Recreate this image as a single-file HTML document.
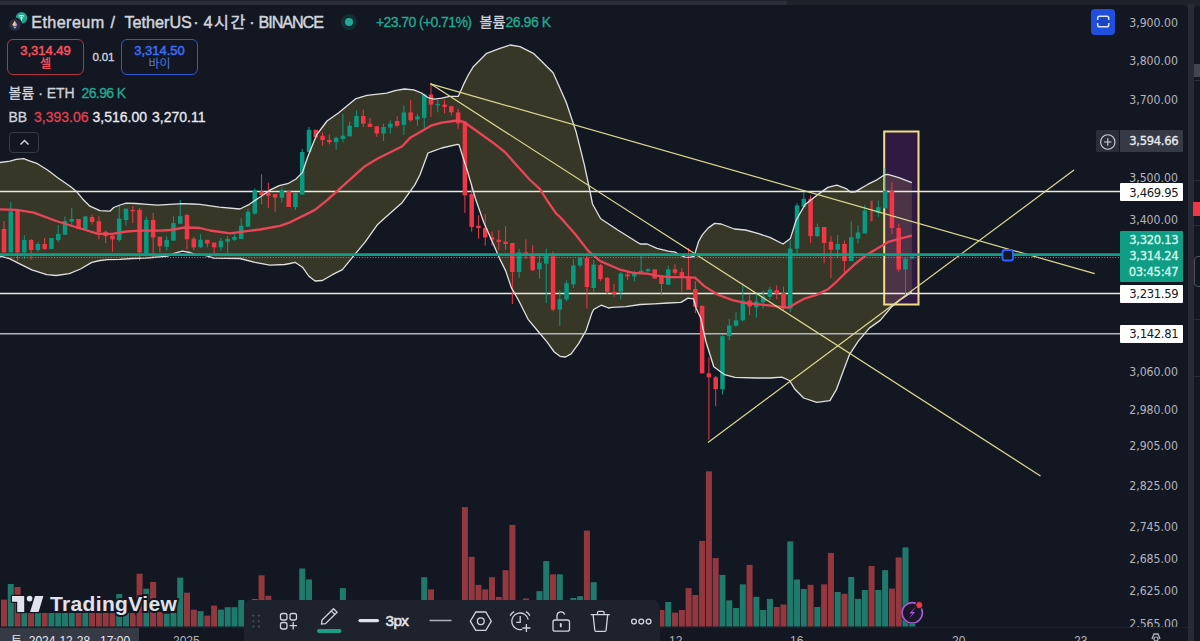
<!DOCTYPE html>
<html><head><meta charset="utf-8">
<style>
*{margin:0;padding:0;box-sizing:border-box}
html,body{width:1200px;height:641px;overflow:hidden;background:#1f212b}
body{position:relative;font-family:"Liberation Sans","Noto Sans CJK KR",sans-serif;color:#d1d4dc}
.abs{position:absolute;white-space:nowrap}
#panel{position:absolute;left:0;top:5px;width:1188px;height:636px;background:#131722;border-top-right-radius:5px;overflow:hidden}
#rpanel{position:absolute;left:1194px;top:6px;width:6px;height:635px;background:#131722;border-top-left-radius:4px}
svg{position:absolute;left:0;top:0}
.ic{position:absolute;overflow:visible}
.pax{position:absolute;left:1110px;width:68px;text-align:right;font-family:"DejaVu Sans Condensed","DejaVu Sans",sans-serif;font-stretch:condensed;font-size:12.2px;line-height:14px;color:#b2b5be}
.pbox{position:absolute;left:1120px;width:63px;text-align:right;padding-right:4.6px;font-family:"DejaVu Sans Condensed","DejaVu Sans",sans-serif;font-stretch:condensed;font-size:12.9px;letter-spacing:-0.3px;border-radius:1px}
.pb{-webkit-text-stroke:0.3px currentColor}
.tax{position:absolute;top:633.5px;font-size:12px;line-height:14px;color:#b2b5be;font-family:"Liberation Sans",sans-serif}
.ttl{position:absolute;top:12px;font-size:16.2px;line-height:20px;color:#d1d4dc;white-space:nowrap;-webkit-text-stroke:0.45px #d1d4dc}
</style></head><body>
<div class="abs" style="left:0;top:1px;width:787px;height:4px;background:#2a2e39"></div>
<div class="abs" style="left:1188px;top:4px;width:6px;height:637px;background:#282b36"></div>
<div id="panel"></div>
<div id="rpanel"></div>
<svg width="1200" height="641" viewBox="0 0 1200 641">
<rect x="1.00" y="599.7" width="6.0" height="26.8" fill="#94383f"/>
<rect x="7.78" y="584.0" width="6.0" height="42.5" fill="#1f7a6c"/>
<rect x="14.56" y="587.0" width="6.0" height="39.5" fill="#94383f"/>
<rect x="21.33" y="613.0" width="6.0" height="13.5" fill="#1f7a6c"/>
<rect x="28.11" y="613.0" width="6.0" height="13.5" fill="#94383f"/>
<rect x="34.89" y="613.0" width="6.0" height="13.5" fill="#1f7a6c"/>
<rect x="41.67" y="613.0" width="6.0" height="13.5" fill="#94383f"/>
<rect x="48.45" y="613.0" width="6.0" height="13.5" fill="#1f7a6c"/>
<rect x="55.22" y="613.0" width="6.0" height="13.5" fill="#1f7a6c"/>
<rect x="62.00" y="613.0" width="6.0" height="13.5" fill="#1f7a6c"/>
<rect x="68.78" y="613.0" width="6.0" height="13.5" fill="#1f7a6c"/>
<rect x="75.56" y="613.0" width="6.0" height="13.5" fill="#94383f"/>
<rect x="82.34" y="613.0" width="6.0" height="13.5" fill="#1f7a6c"/>
<rect x="89.11" y="613.0" width="6.0" height="13.5" fill="#94383f"/>
<rect x="95.89" y="613.0" width="6.0" height="13.5" fill="#94383f"/>
<rect x="102.67" y="613.0" width="6.0" height="13.5" fill="#94383f"/>
<rect x="109.45" y="613.0" width="6.0" height="13.5" fill="#94383f"/>
<rect x="116.23" y="594.0" width="6.0" height="32.5" fill="#1f7a6c"/>
<rect x="123.00" y="613.0" width="6.0" height="13.5" fill="#1f7a6c"/>
<rect x="129.78" y="613.0" width="6.0" height="13.5" fill="#94383f"/>
<rect x="136.56" y="573.7" width="6.0" height="52.8" fill="#94383f"/>
<rect x="143.34" y="588.7" width="6.0" height="37.8" fill="#1f7a6c"/>
<rect x="150.12" y="581.9" width="6.0" height="44.6" fill="#94383f"/>
<rect x="156.89" y="612.0" width="6.0" height="14.5" fill="#94383f"/>
<rect x="163.67" y="613.7" width="6.0" height="12.8" fill="#1f7a6c"/>
<rect x="170.45" y="613.0" width="6.0" height="13.5" fill="#1f7a6c"/>
<rect x="177.23" y="577.7" width="6.0" height="48.8" fill="#1f7a6c"/>
<rect x="184.01" y="592.7" width="6.0" height="33.8" fill="#94383f"/>
<rect x="190.78" y="609.7" width="6.0" height="16.8" fill="#94383f"/>
<rect x="197.56" y="611.2" width="6.0" height="15.3" fill="#1f7a6c"/>
<rect x="204.34" y="615.6" width="6.0" height="10.9" fill="#94383f"/>
<rect x="211.12" y="605.6" width="6.0" height="20.9" fill="#94383f"/>
<rect x="217.90" y="609.7" width="6.0" height="16.8" fill="#1f7a6c"/>
<rect x="224.67" y="607.2" width="6.0" height="19.3" fill="#1f7a6c"/>
<rect x="231.45" y="607.2" width="6.0" height="19.3" fill="#1f7a6c"/>
<rect x="238.23" y="600.0" width="6.0" height="26.5" fill="#1f7a6c"/>
<rect x="245.01" y="613.0" width="6.0" height="13.5" fill="#1f7a6c"/>
<rect x="251.79" y="599.0" width="6.0" height="27.5" fill="#1f7a6c"/>
<rect x="258.56" y="575.3" width="6.0" height="51.2" fill="#94383f"/>
<rect x="265.34" y="595.8" width="6.0" height="30.7" fill="#94383f"/>
<rect x="272.12" y="613.0" width="6.0" height="13.5" fill="#94383f"/>
<rect x="278.90" y="613.0" width="6.0" height="13.5" fill="#1f7a6c"/>
<rect x="285.68" y="613.0" width="6.0" height="13.5" fill="#94383f"/>
<rect x="292.45" y="613.0" width="6.0" height="13.5" fill="#1f7a6c"/>
<rect x="299.23" y="568.5" width="6.0" height="58.0" fill="#1f7a6c"/>
<rect x="306.01" y="579.4" width="6.0" height="47.1" fill="#1f7a6c"/>
<rect x="312.79" y="613.0" width="6.0" height="13.5" fill="#94383f"/>
<rect x="319.57" y="613.0" width="6.0" height="13.5" fill="#94383f"/>
<rect x="326.34" y="613.0" width="6.0" height="13.5" fill="#94383f"/>
<rect x="333.12" y="613.0" width="6.0" height="13.5" fill="#1f7a6c"/>
<rect x="339.90" y="588.1" width="6.0" height="38.4" fill="#1f7a6c"/>
<rect x="346.68" y="613.0" width="6.0" height="13.5" fill="#1f7a6c"/>
<rect x="353.46" y="613.0" width="6.0" height="13.5" fill="#1f7a6c"/>
<rect x="360.23" y="613.0" width="6.0" height="13.5" fill="#94383f"/>
<rect x="367.01" y="613.0" width="6.0" height="13.5" fill="#94383f"/>
<rect x="373.79" y="613.0" width="6.0" height="13.5" fill="#94383f"/>
<rect x="380.57" y="613.0" width="6.0" height="13.5" fill="#1f7a6c"/>
<rect x="387.35" y="613.0" width="6.0" height="13.5" fill="#1f7a6c"/>
<rect x="394.12" y="613.0" width="6.0" height="13.5" fill="#94383f"/>
<rect x="400.90" y="613.0" width="6.0" height="13.5" fill="#1f7a6c"/>
<rect x="407.68" y="613.0" width="6.0" height="13.5" fill="#94383f"/>
<rect x="414.46" y="613.0" width="6.0" height="13.5" fill="#1f7a6c"/>
<rect x="421.24" y="577.2" width="6.0" height="49.3" fill="#1f7a6c"/>
<rect x="428.01" y="589.4" width="6.0" height="37.1" fill="#94383f"/>
<rect x="434.79" y="613.0" width="6.0" height="13.5" fill="#1f7a6c"/>
<rect x="441.57" y="613.0" width="6.0" height="13.5" fill="#94383f"/>
<rect x="448.35" y="613.0" width="6.0" height="13.5" fill="#94383f"/>
<rect x="455.13" y="613.0" width="6.0" height="13.5" fill="#94383f"/>
<rect x="461.90" y="507.1" width="6.0" height="119.4" fill="#94383f"/>
<rect x="468.68" y="556.8" width="6.0" height="69.7" fill="#94383f"/>
<rect x="475.46" y="584.9" width="6.0" height="41.6" fill="#94383f"/>
<rect x="482.24" y="589.4" width="6.0" height="37.1" fill="#94383f"/>
<rect x="489.02" y="577.2" width="6.0" height="49.3" fill="#94383f"/>
<rect x="495.79" y="596.9" width="6.0" height="29.6" fill="#94383f"/>
<rect x="502.57" y="570.2" width="6.0" height="56.3" fill="#94383f"/>
<rect x="509.35" y="524.9" width="6.0" height="101.6" fill="#94383f"/>
<rect x="516.13" y="613.0" width="6.0" height="13.5" fill="#1f7a6c"/>
<rect x="522.91" y="598.5" width="6.0" height="28.0" fill="#94383f"/>
<rect x="529.68" y="613.0" width="6.0" height="13.5" fill="#94383f"/>
<rect x="536.46" y="591.2" width="6.0" height="35.3" fill="#1f7a6c"/>
<rect x="543.24" y="561.1" width="6.0" height="65.4" fill="#1f7a6c"/>
<rect x="550.02" y="574.3" width="6.0" height="52.2" fill="#94383f"/>
<rect x="556.80" y="574.3" width="6.0" height="52.2" fill="#1f7a6c"/>
<rect x="563.57" y="613.0" width="6.0" height="13.5" fill="#1f7a6c"/>
<rect x="570.35" y="598.0" width="6.0" height="28.5" fill="#1f7a6c"/>
<rect x="577.13" y="596.2" width="6.0" height="30.3" fill="#1f7a6c"/>
<rect x="583.91" y="530.6" width="6.0" height="95.9" fill="#94383f"/>
<rect x="590.69" y="582.2" width="6.0" height="44.3" fill="#1f7a6c"/>
<rect x="597.46" y="613.0" width="6.0" height="13.5" fill="#94383f"/>
<rect x="604.24" y="613.0" width="6.0" height="13.5" fill="#94383f"/>
<rect x="611.02" y="613.0" width="6.0" height="13.5" fill="#94383f"/>
<rect x="617.80" y="613.0" width="6.0" height="13.5" fill="#1f7a6c"/>
<rect x="624.58" y="613.0" width="6.0" height="13.5" fill="#94383f"/>
<rect x="631.35" y="613.0" width="6.0" height="13.5" fill="#1f7a6c"/>
<rect x="638.13" y="613.0" width="6.0" height="13.5" fill="#1f7a6c"/>
<rect x="644.91" y="613.0" width="6.0" height="13.5" fill="#1f7a6c"/>
<rect x="651.69" y="613.0" width="6.0" height="13.5" fill="#94383f"/>
<rect x="658.47" y="610.0" width="6.0" height="16.5" fill="#94383f"/>
<rect x="665.24" y="602.0" width="6.0" height="24.5" fill="#1f7a6c"/>
<rect x="672.02" y="612.6" width="6.0" height="13.9" fill="#94383f"/>
<rect x="678.80" y="610.0" width="6.0" height="16.5" fill="#94383f"/>
<rect x="685.58" y="588.1" width="6.0" height="38.4" fill="#94383f"/>
<rect x="692.36" y="595.0" width="6.0" height="31.5" fill="#94383f"/>
<rect x="699.13" y="540.9" width="6.0" height="85.6" fill="#94383f"/>
<rect x="705.91" y="471.3" width="6.0" height="155.2" fill="#94383f"/>
<rect x="712.69" y="558.1" width="6.0" height="68.4" fill="#94383f"/>
<rect x="719.47" y="574.9" width="6.0" height="51.6" fill="#1f7a6c"/>
<rect x="726.25" y="600.3" width="6.0" height="26.2" fill="#1f7a6c"/>
<rect x="733.02" y="608.0" width="6.0" height="18.5" fill="#1f7a6c"/>
<rect x="739.80" y="584.3" width="6.0" height="42.2" fill="#1f7a6c"/>
<rect x="746.58" y="564.9" width="6.0" height="61.6" fill="#94383f"/>
<rect x="753.36" y="596.8" width="6.0" height="29.7" fill="#1f7a6c"/>
<rect x="760.14" y="610.0" width="6.0" height="16.5" fill="#1f7a6c"/>
<rect x="766.91" y="598.9" width="6.0" height="27.6" fill="#1f7a6c"/>
<rect x="773.69" y="607.0" width="6.0" height="19.5" fill="#94383f"/>
<rect x="780.47" y="604.5" width="6.0" height="22.0" fill="#94383f"/>
<rect x="787.25" y="541.4" width="6.0" height="85.1" fill="#1f7a6c"/>
<rect x="794.03" y="579.5" width="6.0" height="47.0" fill="#1f7a6c"/>
<rect x="800.80" y="589.0" width="6.0" height="37.5" fill="#1f7a6c"/>
<rect x="807.58" y="584.8" width="6.0" height="41.7" fill="#94383f"/>
<rect x="814.36" y="607.0" width="6.0" height="19.5" fill="#1f7a6c"/>
<rect x="821.14" y="584.3" width="6.0" height="42.2" fill="#94383f"/>
<rect x="827.92" y="552.9" width="6.0" height="73.6" fill="#94383f"/>
<rect x="834.69" y="592.0" width="6.0" height="34.5" fill="#1f7a6c"/>
<rect x="841.47" y="593.8" width="6.0" height="32.7" fill="#94383f"/>
<rect x="848.25" y="577.0" width="6.0" height="49.5" fill="#1f7a6c"/>
<rect x="855.03" y="598.9" width="6.0" height="27.6" fill="#1f7a6c"/>
<rect x="861.81" y="590.0" width="6.0" height="36.5" fill="#1f7a6c"/>
<rect x="868.58" y="566.0" width="6.0" height="60.5" fill="#94383f"/>
<rect x="875.36" y="590.0" width="6.0" height="36.5" fill="#1f7a6c"/>
<rect x="882.14" y="570.1" width="6.0" height="56.4" fill="#1f7a6c"/>
<rect x="888.92" y="588.6" width="6.0" height="37.9" fill="#94383f"/>
<rect x="895.70" y="557.4" width="6.0" height="69.1" fill="#94383f"/>
<rect x="902.47" y="547.4" width="6.0" height="79.1" fill="#1f7a6c"/>
<rect x="909.25" y="615.0" width="6.0" height="11.5" fill="#1f7a6c"/>
<polygon points="0.0,162.5 10.0,161.2 16.2,159.4 23.7,158.7 28.7,160.6 37.5,163.7 47.5,170.0 57.4,177.5 70.0,186.2 76.2,191.2 82.4,198.7 89.9,206.2 99.9,210.6 109.9,211.2 113.7,207.5 120.0,205.0 126.2,203.1 136.2,203.5 147.5,204.4 157.4,205.2 170.0,204.4 182.4,203.7 192.4,204.0 200.0,204.4 219.3,207.1 240.0,209.0 249.3,204.3 260.5,196.8 269.9,190.2 279.2,185.6 288.6,183.3 296.0,179.0 302.5,172.4 307.5,157.5 316.8,134.6 327.0,121.0 338.7,112.7 356.0,98.6 367.0,95.3 386.7,93.1 395.0,90.6 404.4,89.0 413.7,89.8 421.5,93.0 427.8,97.6 434.0,99.2 441.8,98.1 449.6,96.4 458.2,96.4 463.6,84.4 468.3,75.0 473.3,66.7 486.7,53.3 500.0,48.3 510.0,45.0 520.0,46.7 533.3,53.3 540.0,59.7 553.1,72.8 566.2,102.3 576.1,131.8 584.3,164.6 589.2,187.5 592.5,204.0 600.7,218.7 617.7,230.0 628.9,237.0 640.1,244.0 647.2,244.0 657.0,248.3 668.2,251.1 675.3,252.2 679.5,255.0 685.1,257.2 689.4,257.3 694.0,256.5 698.7,241.2 702.5,234.6 708.1,228.1 714.6,223.4 721.2,224.0 734.3,229.0 745.5,230.0 758.6,233.7 769.9,237.4 783.0,244.0 790.4,238.4 796.2,220.0 805.2,204.4 816.6,195.4 827.9,187.4 836.9,185.2 846.0,188.6 850.5,192.0 855.0,191.9 868.1,184.2 876.9,179.8 884.5,174.8 887.8,174.4 898.8,177.7 911.9,182.7 911.9,292.0 902.0,298.6 891.1,307.3 880.2,320.4 869.3,328.1 858.3,341.2 849.6,354.3 843.0,371.8 836.5,389.3 829.9,400.6 816.8,402.4 803.7,398.0 795.0,389.3 789.5,380.5 781.9,377.2 770.0,378.0 756.2,378.0 735.0,377.3 724.4,374.6 713.8,366.7 705.9,341.5 700.6,317.7 696.3,308.7 693.5,298.8 687.9,298.1 680.9,302.4 668.2,303.0 654.2,303.8 640.1,304.5 626.1,306.6 612.0,307.3 608.6,308.0 601.1,305.2 593.6,309.5 591.7,313.6 586.1,330.5 578.6,343.6 571.1,353.9 565.5,357.0 560.0,356.3 554.3,352.0 546.8,341.7 537.4,330.5 528.1,319.3 518.7,300.5 511.2,287.4 505.6,270.6 500.0,259.4 493.0,243.2 483.7,222.2 475.5,198.8 467.4,171.0 463.6,159.2 459.0,144.6 457.4,144.4 441.8,148.0 432.4,151.4 428.0,153.0 420.0,174.8 414.8,184.9 402.3,202.4 389.8,213.6 377.3,224.8 364.9,242.3 352.4,257.3 342.4,269.7 332.4,274.7 322.4,280.5 315.0,281.0 308.7,276.0 302.5,267.2 295.0,262.3 290.0,263.5 284.8,264.5 269.9,265.1 254.9,262.3 240.0,258.5 213.7,258.2 206.0,255.7 195.0,254.4 190.0,252.5 182.5,251.2 175.0,253.1 167.5,256.2 160.0,256.9 152.5,257.5 145.0,258.1 132.5,258.5 120.0,259.4 107.5,259.7 100.0,260.5 91.8,262.4 80.5,269.0 69.3,273.6 56.2,275.5 46.8,274.6 31.8,269.9 18.7,263.3 9.4,258.7 0.0,256.0" fill="rgba(240,220,70,0.165)"/>
<rect x="884.2" y="131.5" width="34.3" height="173" fill="rgba(156,39,176,0.22)" stroke="#eedf88" stroke-width="2"/>
<line x1="0" y1="333.8" x2="1120" y2="333.8" stroke="#b4b6bc" stroke-width="1.5"/>
<line x1="0" y1="191.5" x2="1120" y2="191.5" stroke="#ebeadc" stroke-width="1.5"/>
<line x1="0" y1="293.5" x2="1120" y2="293.5" stroke="#ebeadc" stroke-width="1.5"/>
<line x1="4.00" y1="221.0" x2="4.00" y2="252.4" stroke="#f23645" stroke-width="1"/>
<rect x="1.75" y="229.0" width="4.5" height="23.4" fill="#f23645"/>
<line x1="10.78" y1="202.0" x2="10.78" y2="252.4" stroke="#089981" stroke-width="1"/>
<rect x="8.53" y="211.4" width="4.5" height="41.0" fill="#089981"/>
<line x1="17.56" y1="211.0" x2="17.56" y2="260.6" stroke="#f23645" stroke-width="1"/>
<rect x="15.31" y="211.0" width="4.5" height="41.4" fill="#f23645"/>
<line x1="24.33" y1="235.0" x2="24.33" y2="259.0" stroke="#089981" stroke-width="1"/>
<rect x="22.08" y="240.0" width="4.5" height="12.4" fill="#089981"/>
<line x1="31.11" y1="239.0" x2="31.11" y2="259.5" stroke="#f23645" stroke-width="1"/>
<rect x="28.86" y="240.0" width="4.5" height="10.0" fill="#f23645"/>
<line x1="37.89" y1="241.8" x2="37.89" y2="252.0" stroke="#089981" stroke-width="1"/>
<rect x="35.64" y="244.0" width="4.5" height="6.0" fill="#089981"/>
<line x1="44.67" y1="238.0" x2="44.67" y2="250.0" stroke="#f23645" stroke-width="1"/>
<rect x="42.42" y="244.0" width="4.5" height="5.0" fill="#f23645"/>
<line x1="51.45" y1="238.0" x2="51.45" y2="249.0" stroke="#089981" stroke-width="1"/>
<rect x="49.20" y="238.0" width="4.5" height="11.0" fill="#089981"/>
<line x1="58.22" y1="225.0" x2="58.22" y2="242.0" stroke="#089981" stroke-width="1"/>
<rect x="55.97" y="234.0" width="4.5" height="6.0" fill="#089981"/>
<line x1="65.00" y1="216.5" x2="65.00" y2="235.0" stroke="#089981" stroke-width="1"/>
<rect x="62.75" y="221.0" width="4.5" height="13.7" fill="#089981"/>
<line x1="71.78" y1="208.0" x2="71.78" y2="225.0" stroke="#089981" stroke-width="1"/>
<rect x="69.53" y="219.0" width="4.5" height="2.6" fill="#089981"/>
<line x1="78.56" y1="219.0" x2="78.56" y2="229.0" stroke="#f23645" stroke-width="1"/>
<rect x="76.31" y="219.0" width="4.5" height="10.0" fill="#f23645"/>
<line x1="85.34" y1="216.0" x2="85.34" y2="229.0" stroke="#089981" stroke-width="1"/>
<rect x="83.09" y="216.5" width="4.5" height="12.5" fill="#089981"/>
<line x1="92.11" y1="214.6" x2="92.11" y2="224.6" stroke="#f23645" stroke-width="1"/>
<rect x="89.86" y="217.0" width="4.5" height="5.0" fill="#f23645"/>
<line x1="98.89" y1="216.2" x2="98.89" y2="239.3" stroke="#f23645" stroke-width="1"/>
<rect x="96.64" y="221.2" width="4.5" height="11.2" fill="#f23645"/>
<line x1="105.67" y1="230.6" x2="105.67" y2="243.0" stroke="#f23645" stroke-width="1"/>
<rect x="103.42" y="231.8" width="4.5" height="4.4" fill="#f23645"/>
<line x1="112.45" y1="235.6" x2="112.45" y2="251.8" stroke="#f23645" stroke-width="1"/>
<rect x="110.20" y="235.6" width="4.5" height="3.7" fill="#f23645"/>
<line x1="119.23" y1="205.0" x2="119.23" y2="241.8" stroke="#089981" stroke-width="1"/>
<rect x="116.98" y="218.7" width="4.5" height="21.3" fill="#089981"/>
<line x1="126.00" y1="208.7" x2="126.00" y2="225.6" stroke="#089981" stroke-width="1"/>
<rect x="123.75" y="208.7" width="4.5" height="11.3" fill="#089981"/>
<line x1="132.78" y1="206.2" x2="132.78" y2="223.0" stroke="#f23645" stroke-width="1"/>
<rect x="130.53" y="210.0" width="4.5" height="1.2" fill="#f23645"/>
<line x1="139.56" y1="208.0" x2="139.56" y2="260.5" stroke="#f23645" stroke-width="1"/>
<rect x="137.31" y="210.0" width="4.5" height="42.4" fill="#f23645"/>
<line x1="146.34" y1="216.8" x2="146.34" y2="253.7" stroke="#089981" stroke-width="1"/>
<rect x="144.09" y="220.0" width="4.5" height="33.7" fill="#089981"/>
<line x1="153.12" y1="213.0" x2="153.12" y2="257.4" stroke="#f23645" stroke-width="1"/>
<rect x="150.87" y="220.0" width="4.5" height="17.4" fill="#f23645"/>
<line x1="159.89" y1="236.8" x2="159.89" y2="252.4" stroke="#f23645" stroke-width="1"/>
<rect x="157.64" y="236.8" width="4.5" height="9.4" fill="#f23645"/>
<line x1="166.67" y1="236.2" x2="166.67" y2="250.5" stroke="#089981" stroke-width="1"/>
<rect x="164.42" y="240.0" width="4.5" height="6.8" fill="#089981"/>
<line x1="173.45" y1="216.2" x2="173.45" y2="240.6" stroke="#089981" stroke-width="1"/>
<rect x="171.20" y="223.0" width="4.5" height="17.6" fill="#089981"/>
<line x1="180.23" y1="200.0" x2="180.23" y2="223.7" stroke="#089981" stroke-width="1"/>
<rect x="177.98" y="216.2" width="4.5" height="7.5" fill="#089981"/>
<line x1="187.01" y1="213.7" x2="187.01" y2="249.3" stroke="#f23645" stroke-width="1"/>
<rect x="184.76" y="215.0" width="4.5" height="24.3" fill="#f23645"/>
<line x1="193.78" y1="236.8" x2="193.78" y2="250.0" stroke="#f23645" stroke-width="1"/>
<rect x="191.53" y="238.7" width="4.5" height="8.7" fill="#f23645"/>
<line x1="200.56" y1="234.2" x2="200.56" y2="248.0" stroke="#089981" stroke-width="1"/>
<rect x="198.31" y="239.8" width="4.5" height="7.5" fill="#089981"/>
<line x1="207.34" y1="239.8" x2="207.34" y2="247.3" stroke="#f23645" stroke-width="1"/>
<rect x="205.09" y="239.8" width="4.5" height="3.8" fill="#f23645"/>
<line x1="214.12" y1="242.6" x2="214.12" y2="253.0" stroke="#f23645" stroke-width="1"/>
<rect x="211.87" y="242.6" width="4.5" height="4.7" fill="#f23645"/>
<line x1="220.90" y1="238.0" x2="220.90" y2="251.0" stroke="#089981" stroke-width="1"/>
<rect x="218.65" y="240.8" width="4.5" height="6.5" fill="#089981"/>
<line x1="227.67" y1="236.0" x2="227.67" y2="253.0" stroke="#089981" stroke-width="1"/>
<rect x="225.42" y="238.9" width="4.5" height="2.8" fill="#089981"/>
<line x1="234.45" y1="233.3" x2="234.45" y2="240.8" stroke="#089981" stroke-width="1"/>
<rect x="232.20" y="237.0" width="4.5" height="2.8" fill="#089981"/>
<line x1="241.23" y1="218.3" x2="241.23" y2="238.9" stroke="#089981" stroke-width="1"/>
<rect x="238.98" y="225.8" width="4.5" height="13.1" fill="#089981"/>
<line x1="248.01" y1="209.0" x2="248.01" y2="226.7" stroke="#089981" stroke-width="1"/>
<rect x="245.76" y="211.8" width="4.5" height="14.9" fill="#089981"/>
<line x1="254.79" y1="188.4" x2="254.79" y2="214.6" stroke="#089981" stroke-width="1"/>
<rect x="252.54" y="190.2" width="4.5" height="23.4" fill="#089981"/>
<line x1="261.56" y1="174.3" x2="261.56" y2="204.3" stroke="#f23645" stroke-width="1"/>
<rect x="259.31" y="191.5" width="4.5" height="3.5" fill="#f23645"/>
<line x1="268.34" y1="182.8" x2="268.34" y2="208.0" stroke="#f23645" stroke-width="1"/>
<rect x="266.09" y="193.0" width="4.5" height="2.9" fill="#f23645"/>
<line x1="275.12" y1="194.0" x2="275.12" y2="211.8" stroke="#f23645" stroke-width="1"/>
<rect x="272.87" y="194.0" width="4.5" height="3.7" fill="#f23645"/>
<line x1="281.90" y1="187.4" x2="281.90" y2="202.4" stroke="#089981" stroke-width="1"/>
<rect x="279.65" y="190.2" width="4.5" height="7.5" fill="#089981"/>
<line x1="288.68" y1="191.2" x2="288.68" y2="207.0" stroke="#f23645" stroke-width="1"/>
<rect x="286.43" y="191.2" width="4.5" height="15.8" fill="#f23645"/>
<line x1="295.45" y1="192.0" x2="295.45" y2="210.0" stroke="#089981" stroke-width="1"/>
<rect x="293.20" y="193.0" width="4.5" height="14.0" fill="#089981"/>
<line x1="302.23" y1="148.8" x2="302.23" y2="194.6" stroke="#089981" stroke-width="1"/>
<rect x="299.98" y="152.0" width="4.5" height="42.6" fill="#089981"/>
<line x1="309.01" y1="127.0" x2="309.01" y2="152.0" stroke="#089981" stroke-width="1"/>
<rect x="306.76" y="129.8" width="4.5" height="22.2" fill="#089981"/>
<line x1="315.79" y1="129.8" x2="315.79" y2="139.0" stroke="#f23645" stroke-width="1"/>
<rect x="313.54" y="129.8" width="4.5" height="7.4" fill="#f23645"/>
<line x1="322.57" y1="132.4" x2="322.57" y2="145.5" stroke="#f23645" stroke-width="1"/>
<rect x="320.32" y="135.7" width="4.5" height="4.3" fill="#f23645"/>
<line x1="329.34" y1="134.6" x2="329.34" y2="144.4" stroke="#f23645" stroke-width="1"/>
<rect x="327.09" y="140.0" width="4.5" height="2.2" fill="#f23645"/>
<line x1="336.12" y1="136.8" x2="336.12" y2="149.9" stroke="#089981" stroke-width="1"/>
<rect x="333.87" y="137.8" width="4.5" height="4.4" fill="#089981"/>
<line x1="342.90" y1="113.8" x2="342.90" y2="142.2" stroke="#089981" stroke-width="1"/>
<rect x="340.65" y="135.7" width="4.5" height="3.3" fill="#089981"/>
<line x1="349.68" y1="121.5" x2="349.68" y2="136.3" stroke="#089981" stroke-width="1"/>
<rect x="347.43" y="125.8" width="4.5" height="10.5" fill="#089981"/>
<line x1="356.46" y1="110.6" x2="356.46" y2="127.0" stroke="#089981" stroke-width="1"/>
<rect x="354.21" y="116.0" width="4.5" height="11.0" fill="#089981"/>
<line x1="363.23" y1="109.5" x2="363.23" y2="127.0" stroke="#f23645" stroke-width="1"/>
<rect x="360.98" y="116.0" width="4.5" height="7.7" fill="#f23645"/>
<line x1="370.01" y1="118.2" x2="370.01" y2="127.0" stroke="#f23645" stroke-width="1"/>
<rect x="367.76" y="123.7" width="4.5" height="3.3" fill="#f23645"/>
<line x1="376.79" y1="126.3" x2="376.79" y2="136.8" stroke="#f23645" stroke-width="1"/>
<rect x="374.54" y="126.3" width="4.5" height="7.2" fill="#f23645"/>
<line x1="383.57" y1="123.7" x2="383.57" y2="141.1" stroke="#089981" stroke-width="1"/>
<rect x="381.32" y="127.0" width="4.5" height="6.5" fill="#089981"/>
<line x1="390.35" y1="120.4" x2="390.35" y2="133.5" stroke="#089981" stroke-width="1"/>
<rect x="388.10" y="123.7" width="4.5" height="3.9" fill="#089981"/>
<line x1="397.12" y1="116.3" x2="397.12" y2="127.2" stroke="#f23645" stroke-width="1"/>
<rect x="394.87" y="121.0" width="4.5" height="4.7" fill="#f23645"/>
<line x1="403.90" y1="105.4" x2="403.90" y2="135.0" stroke="#089981" stroke-width="1"/>
<rect x="401.65" y="112.4" width="4.5" height="12.5" fill="#089981"/>
<line x1="410.68" y1="100.0" x2="410.68" y2="121.8" stroke="#f23645" stroke-width="1"/>
<rect x="408.43" y="112.4" width="4.5" height="7.8" fill="#f23645"/>
<line x1="417.46" y1="114.0" x2="417.46" y2="125.7" stroke="#089981" stroke-width="1"/>
<rect x="415.21" y="116.3" width="4.5" height="3.2" fill="#089981"/>
<line x1="424.24" y1="93.7" x2="424.24" y2="128.0" stroke="#089981" stroke-width="1"/>
<rect x="421.99" y="94.5" width="4.5" height="23.4" fill="#089981"/>
<line x1="431.01" y1="82.8" x2="431.01" y2="117.1" stroke="#f23645" stroke-width="1"/>
<rect x="428.76" y="94.5" width="4.5" height="10.1" fill="#f23645"/>
<line x1="437.79" y1="100.0" x2="437.79" y2="112.4" stroke="#089981" stroke-width="1"/>
<rect x="435.54" y="103.9" width="4.5" height="1.5" fill="#089981"/>
<line x1="444.57" y1="100.0" x2="444.57" y2="113.2" stroke="#f23645" stroke-width="1"/>
<rect x="442.32" y="104.6" width="4.5" height="2.4" fill="#f23645"/>
<line x1="451.35" y1="106.2" x2="451.35" y2="115.5" stroke="#f23645" stroke-width="1"/>
<rect x="449.10" y="106.2" width="4.5" height="6.2" fill="#f23645"/>
<line x1="458.13" y1="108.5" x2="458.13" y2="128.8" stroke="#f23645" stroke-width="1"/>
<rect x="455.88" y="112.4" width="4.5" height="11.0" fill="#f23645"/>
<line x1="464.90" y1="121.7" x2="464.90" y2="212.9" stroke="#f23645" stroke-width="1"/>
<rect x="462.65" y="121.7" width="4.5" height="73.6" fill="#f23645"/>
<line x1="471.68" y1="183.6" x2="471.68" y2="231.6" stroke="#f23645" stroke-width="1"/>
<rect x="469.43" y="194.2" width="4.5" height="32.7" fill="#f23645"/>
<line x1="478.46" y1="215.2" x2="478.46" y2="238.6" stroke="#f23645" stroke-width="1"/>
<rect x="476.21" y="225.7" width="4.5" height="2.3" fill="#f23645"/>
<line x1="485.24" y1="214.0" x2="485.24" y2="245.6" stroke="#f23645" stroke-width="1"/>
<rect x="482.99" y="228.0" width="4.5" height="9.4" fill="#f23645"/>
<line x1="492.02" y1="231.6" x2="492.02" y2="245.6" stroke="#f23645" stroke-width="1"/>
<rect x="489.77" y="237.4" width="4.5" height="2.3" fill="#f23645"/>
<line x1="498.79" y1="230.4" x2="498.79" y2="250.2" stroke="#f23645" stroke-width="1"/>
<rect x="496.54" y="239.7" width="4.5" height="2.3" fill="#f23645"/>
<line x1="505.57" y1="226.2" x2="505.57" y2="249.6" stroke="#f23645" stroke-width="1"/>
<rect x="503.32" y="241.6" width="4.5" height="2.4" fill="#f23645"/>
<line x1="512.35" y1="243.0" x2="512.35" y2="304.0" stroke="#f23645" stroke-width="1"/>
<rect x="510.10" y="243.0" width="4.5" height="29.0" fill="#f23645"/>
<line x1="519.13" y1="248.7" x2="519.13" y2="277.7" stroke="#089981" stroke-width="1"/>
<rect x="516.88" y="252.4" width="4.5" height="19.6" fill="#089981"/>
<line x1="525.91" y1="239.3" x2="525.91" y2="259.0" stroke="#f23645" stroke-width="1"/>
<rect x="523.66" y="252.4" width="4.5" height="1.9" fill="#f23645"/>
<line x1="532.68" y1="245.0" x2="532.68" y2="271.0" stroke="#f23645" stroke-width="1"/>
<rect x="530.43" y="255.2" width="4.5" height="15.0" fill="#f23645"/>
<line x1="539.46" y1="253.4" x2="539.46" y2="278.7" stroke="#089981" stroke-width="1"/>
<rect x="537.21" y="262.7" width="4.5" height="6.6" fill="#089981"/>
<line x1="546.24" y1="248.7" x2="546.24" y2="303.0" stroke="#089981" stroke-width="1"/>
<rect x="543.99" y="254.3" width="4.5" height="9.4" fill="#089981"/>
<line x1="553.02" y1="251.5" x2="553.02" y2="311.4" stroke="#f23645" stroke-width="1"/>
<rect x="550.77" y="256.2" width="4.5" height="53.4" fill="#f23645"/>
<line x1="559.80" y1="289.9" x2="559.80" y2="326.0" stroke="#089981" stroke-width="1"/>
<rect x="557.55" y="299.3" width="4.5" height="10.3" fill="#089981"/>
<line x1="566.57" y1="280.5" x2="566.57" y2="301.0" stroke="#089981" stroke-width="1"/>
<rect x="564.32" y="283.3" width="4.5" height="16.0" fill="#089981"/>
<line x1="573.35" y1="259.0" x2="573.35" y2="288.0" stroke="#089981" stroke-width="1"/>
<rect x="571.10" y="265.5" width="4.5" height="18.8" fill="#089981"/>
<line x1="580.13" y1="257.0" x2="580.13" y2="267.4" stroke="#089981" stroke-width="1"/>
<rect x="577.88" y="258.0" width="4.5" height="7.5" fill="#089981"/>
<line x1="586.91" y1="256.0" x2="586.91" y2="308.6" stroke="#f23645" stroke-width="1"/>
<rect x="584.66" y="258.0" width="4.5" height="29.0" fill="#f23645"/>
<line x1="593.69" y1="260.0" x2="593.69" y2="291.8" stroke="#089981" stroke-width="1"/>
<rect x="591.44" y="264.6" width="4.5" height="23.4" fill="#089981"/>
<line x1="600.46" y1="264.0" x2="600.46" y2="280.9" stroke="#f23645" stroke-width="1"/>
<rect x="598.21" y="265.1" width="4.5" height="14.1" fill="#f23645"/>
<line x1="607.24" y1="277.0" x2="607.24" y2="294.0" stroke="#f23645" stroke-width="1"/>
<rect x="604.99" y="277.8" width="4.5" height="14.0" fill="#f23645"/>
<line x1="614.02" y1="284.0" x2="614.02" y2="296.7" stroke="#f23645" stroke-width="1"/>
<rect x="611.77" y="291.8" width="4.5" height="2.1" fill="#f23645"/>
<line x1="620.80" y1="272.1" x2="620.80" y2="299.5" stroke="#089981" stroke-width="1"/>
<rect x="618.55" y="273.6" width="4.5" height="18.2" fill="#089981"/>
<line x1="627.58" y1="272.1" x2="627.58" y2="279.9" stroke="#f23645" stroke-width="1"/>
<rect x="625.33" y="274.3" width="4.5" height="2.1" fill="#f23645"/>
<line x1="634.35" y1="270.7" x2="634.35" y2="281.3" stroke="#089981" stroke-width="1"/>
<rect x="632.10" y="272.1" width="4.5" height="4.3" fill="#089981"/>
<line x1="641.13" y1="256.0" x2="641.13" y2="272.1" stroke="#089981" stroke-width="1"/>
<rect x="638.88" y="270.7" width="4.5" height="1.4" fill="#089981"/>
<line x1="647.91" y1="268.0" x2="647.91" y2="271.4" stroke="#089981" stroke-width="1"/>
<rect x="645.66" y="269.3" width="4.5" height="2.1" fill="#089981"/>
<line x1="654.69" y1="269.3" x2="654.69" y2="278.5" stroke="#f23645" stroke-width="1"/>
<rect x="652.44" y="269.3" width="4.5" height="9.2" fill="#f23645"/>
<line x1="661.47" y1="275.7" x2="661.47" y2="295.3" stroke="#f23645" stroke-width="1"/>
<rect x="659.22" y="277.0" width="4.5" height="7.0" fill="#f23645"/>
<line x1="668.24" y1="265.8" x2="668.24" y2="284.8" stroke="#089981" stroke-width="1"/>
<rect x="665.99" y="269.3" width="4.5" height="15.5" fill="#089981"/>
<line x1="675.02" y1="264.4" x2="675.02" y2="275.0" stroke="#f23645" stroke-width="1"/>
<rect x="672.77" y="269.3" width="4.5" height="3.5" fill="#f23645"/>
<line x1="681.80" y1="268.0" x2="681.80" y2="291.8" stroke="#f23645" stroke-width="1"/>
<rect x="679.55" y="272.1" width="4.5" height="4.9" fill="#f23645"/>
<line x1="688.58" y1="248.0" x2="688.58" y2="289.8" stroke="#f23645" stroke-width="1"/>
<rect x="686.33" y="276.5" width="4.5" height="13.3" fill="#f23645"/>
<line x1="695.36" y1="281.0" x2="695.36" y2="313.0" stroke="#f23645" stroke-width="1"/>
<rect x="693.11" y="289.0" width="4.5" height="17.8" fill="#f23645"/>
<line x1="702.13" y1="305.8" x2="702.13" y2="373.3" stroke="#f23645" stroke-width="1"/>
<rect x="699.88" y="305.8" width="4.5" height="67.5" fill="#f23645"/>
<line x1="708.91" y1="357.4" x2="708.91" y2="439.8" stroke="#f23645" stroke-width="1"/>
<rect x="706.66" y="373.3" width="4.5" height="4.0" fill="#f23645"/>
<line x1="715.69" y1="376.0" x2="715.69" y2="406.4" stroke="#f23645" stroke-width="1"/>
<rect x="713.44" y="377.3" width="4.5" height="11.9" fill="#f23645"/>
<line x1="722.47" y1="335.0" x2="722.47" y2="394.5" stroke="#089981" stroke-width="1"/>
<rect x="720.22" y="336.2" width="4.5" height="53.0" fill="#089981"/>
<line x1="729.25" y1="319.0" x2="729.25" y2="340.2" stroke="#089981" stroke-width="1"/>
<rect x="727.00" y="325.6" width="4.5" height="10.6" fill="#089981"/>
<line x1="736.02" y1="312.4" x2="736.02" y2="327.0" stroke="#089981" stroke-width="1"/>
<rect x="733.77" y="320.3" width="4.5" height="5.3" fill="#089981"/>
<line x1="742.80" y1="283.2" x2="742.80" y2="321.7" stroke="#089981" stroke-width="1"/>
<rect x="740.55" y="300.5" width="4.5" height="19.8" fill="#089981"/>
<line x1="749.58" y1="294.5" x2="749.58" y2="315.0" stroke="#f23645" stroke-width="1"/>
<rect x="747.33" y="300.5" width="4.5" height="6.0" fill="#f23645"/>
<line x1="756.36" y1="292.5" x2="756.36" y2="317.5" stroke="#089981" stroke-width="1"/>
<rect x="754.11" y="301.5" width="4.5" height="5.8" fill="#089981"/>
<line x1="763.14" y1="290.5" x2="763.14" y2="308.5" stroke="#089981" stroke-width="1"/>
<rect x="760.89" y="296.5" width="4.5" height="5.8" fill="#089981"/>
<line x1="769.91" y1="287.0" x2="769.91" y2="299.8" stroke="#089981" stroke-width="1"/>
<rect x="767.66" y="289.4" width="4.5" height="7.4" fill="#089981"/>
<line x1="776.69" y1="285.5" x2="776.69" y2="299.3" stroke="#f23645" stroke-width="1"/>
<rect x="774.44" y="290.2" width="4.5" height="3.5" fill="#f23645"/>
<line x1="783.47" y1="286.5" x2="783.47" y2="310.0" stroke="#f23645" stroke-width="1"/>
<rect x="781.22" y="293.0" width="4.5" height="15.5" fill="#f23645"/>
<line x1="790.25" y1="240.4" x2="790.25" y2="312.0" stroke="#089981" stroke-width="1"/>
<rect x="788.00" y="248.6" width="4.5" height="59.9" fill="#089981"/>
<line x1="797.03" y1="203.0" x2="797.03" y2="253.0" stroke="#089981" stroke-width="1"/>
<rect x="794.78" y="205.5" width="4.5" height="43.1" fill="#089981"/>
<line x1="803.80" y1="192.0" x2="803.80" y2="206.7" stroke="#089981" stroke-width="1"/>
<rect x="801.55" y="198.8" width="4.5" height="7.9" fill="#089981"/>
<line x1="810.58" y1="195.4" x2="810.58" y2="242.9" stroke="#f23645" stroke-width="1"/>
<rect x="808.33" y="198.8" width="4.5" height="37.3" fill="#f23645"/>
<line x1="817.36" y1="223.6" x2="817.36" y2="237.2" stroke="#089981" stroke-width="1"/>
<rect x="815.11" y="227.0" width="4.5" height="9.1" fill="#089981"/>
<line x1="824.14" y1="227.0" x2="824.14" y2="263.2" stroke="#f23645" stroke-width="1"/>
<rect x="821.89" y="227.0" width="4.5" height="15.9" fill="#f23645"/>
<line x1="830.92" y1="236.1" x2="830.92" y2="278.0" stroke="#f23645" stroke-width="1"/>
<rect x="828.67" y="241.7" width="4.5" height="8.0" fill="#f23645"/>
<line x1="837.69" y1="235.0" x2="837.69" y2="257.6" stroke="#089981" stroke-width="1"/>
<rect x="835.44" y="244.0" width="4.5" height="5.7" fill="#089981"/>
<line x1="844.47" y1="240.6" x2="844.47" y2="274.5" stroke="#f23645" stroke-width="1"/>
<rect x="842.22" y="244.0" width="4.5" height="17.0" fill="#f23645"/>
<line x1="851.25" y1="221.4" x2="851.25" y2="261.0" stroke="#089981" stroke-width="1"/>
<rect x="849.00" y="237.2" width="4.5" height="23.8" fill="#089981"/>
<line x1="858.03" y1="225.3" x2="858.03" y2="243.3" stroke="#089981" stroke-width="1"/>
<rect x="855.78" y="232.5" width="4.5" height="6.1" fill="#089981"/>
<line x1="864.81" y1="205.0" x2="864.81" y2="233.4" stroke="#089981" stroke-width="1"/>
<rect x="862.56" y="210.5" width="4.5" height="22.9" fill="#089981"/>
<rect x="870.48" y="200.6" width="2.2" height="20.8" fill="#c23a48"/>
<line x1="878.36" y1="200.6" x2="878.36" y2="217.0" stroke="#089981" stroke-width="1"/>
<rect x="876.11" y="207.2" width="4.5" height="5.5" fill="#089981"/>
<line x1="885.14" y1="168.0" x2="885.14" y2="208.3" stroke="#089981" stroke-width="1"/>
<rect x="882.89" y="190.8" width="4.5" height="17.5" fill="#089981"/>
<line x1="891.92" y1="182.0" x2="891.92" y2="234.5" stroke="#f23645" stroke-width="1"/>
<rect x="889.67" y="190.8" width="4.5" height="37.2" fill="#f23645"/>
<line x1="898.70" y1="223.6" x2="898.70" y2="271.7" stroke="#f23645" stroke-width="1"/>
<rect x="896.45" y="228.0" width="4.5" height="41.5" fill="#f23645"/>
<line x1="905.47" y1="257.5" x2="905.47" y2="294.7" stroke="#089981" stroke-width="1"/>
<rect x="903.22" y="258.6" width="4.5" height="10.9" fill="#089981"/>
<line x1="912.25" y1="256.5" x2="912.25" y2="258.5" stroke="#089981" stroke-width="1"/>
<rect x="910.00" y="256.5" width="4.5" height="2.0" fill="#089981"/>
<polyline points="0.0,162.5 10.0,161.2 16.2,159.4 23.7,158.7 28.7,160.6 37.5,163.7 47.5,170.0 57.4,177.5 70.0,186.2 76.2,191.2 82.4,198.7 89.9,206.2 99.9,210.6 109.9,211.2 113.7,207.5 120.0,205.0 126.2,203.1 136.2,203.5 147.5,204.4 157.4,205.2 170.0,204.4 182.4,203.7 192.4,204.0 200.0,204.4 219.3,207.1 240.0,209.0 249.3,204.3 260.5,196.8 269.9,190.2 279.2,185.6 288.6,183.3 296.0,179.0 302.5,172.4 307.5,157.5 316.8,134.6 327.0,121.0 338.7,112.7 356.0,98.6 367.0,95.3 386.7,93.1 395.0,90.6 404.4,89.0 413.7,89.8 421.5,93.0 427.8,97.6 434.0,99.2 441.8,98.1 449.6,96.4 458.2,96.4 463.6,84.4 468.3,75.0 473.3,66.7 486.7,53.3 500.0,48.3 510.0,45.0 520.0,46.7 533.3,53.3 540.0,59.7 553.1,72.8 566.2,102.3 576.1,131.8 584.3,164.6 589.2,187.5 592.5,204.0 600.7,218.7 617.7,230.0 628.9,237.0 640.1,244.0 647.2,244.0 657.0,248.3 668.2,251.1 675.3,252.2 679.5,255.0 685.1,257.2 689.4,257.3 694.0,256.5 698.7,241.2 702.5,234.6 708.1,228.1 714.6,223.4 721.2,224.0 734.3,229.0 745.5,230.0 758.6,233.7 769.9,237.4 783.0,244.0 790.4,238.4 796.2,220.0 805.2,204.4 816.6,195.4 827.9,187.4 836.9,185.2 846.0,188.6 850.5,192.0 855.0,191.9 868.1,184.2 876.9,179.8 884.5,174.8 887.8,174.4 898.8,177.7 911.9,182.7" fill="none" stroke="#e0e0e0" stroke-width="1.3" stroke-linejoin="round"/>
<polyline points="0.0,256.0 9.4,258.7 18.7,263.3 31.8,269.9 46.8,274.6 56.2,275.5 69.3,273.6 80.5,269.0 91.8,262.4 100.0,260.5 107.5,259.7 120.0,259.4 132.5,258.5 145.0,258.1 152.5,257.5 160.0,256.9 167.5,256.2 175.0,253.1 182.5,251.2 190.0,252.5 195.0,254.4 206.0,255.7 213.7,258.2 240.0,258.5 254.9,262.3 269.9,265.1 284.8,264.5 290.0,263.5 295.0,262.3 302.5,267.2 308.7,276.0 315.0,281.0 322.4,280.5 332.4,274.7 342.4,269.7 352.4,257.3 364.9,242.3 377.3,224.8 389.8,213.6 402.3,202.4 414.8,184.9 420.0,174.8 428.0,153.0 432.4,151.4 441.8,148.0 457.4,144.4 459.0,144.6 463.6,159.2 467.4,171.0 475.5,198.8 483.7,222.2 493.0,243.2 500.0,259.4 505.6,270.6 511.2,287.4 518.7,300.5 528.1,319.3 537.4,330.5 546.8,341.7 554.3,352.0 560.0,356.3 565.5,357.0 571.1,353.9 578.6,343.6 586.1,330.5 591.7,313.6 593.6,309.5 601.1,305.2 608.6,308.0 612.0,307.3 626.1,306.6 640.1,304.5 654.2,303.8 668.2,303.0 680.9,302.4 687.9,298.1 693.5,298.8 696.3,308.7 700.6,317.7 705.9,341.5 713.8,366.7 724.4,374.6 735.0,377.3 756.2,378.0 770.0,378.0 781.9,377.2 789.5,380.5 795.0,389.3 803.7,398.0 816.8,402.4 829.9,400.6 836.5,389.3 843.0,371.8 849.6,354.3 858.3,341.2 869.3,328.1 880.2,320.4 891.1,307.3 902.0,298.6 911.9,292.0" fill="none" stroke="#e0e0e0" stroke-width="1.3" stroke-linejoin="round"/>
<polyline points="0.0,209.3 16.9,209.9 33.7,212.7 56.2,221.0 78.7,228.0 98.3,233.8 112.4,233.8 126.4,231.5 140.0,230.6 160.0,230.6 170.0,230.0 185.0,227.5 200.0,228.0 210.0,230.5 230.0,233.3 245.0,231.4 260.0,229.5 280.0,225.8 290.0,222.3 302.5,216.1 315.0,209.9 327.4,199.9 339.9,188.7 352.4,177.4 364.9,166.2 377.3,158.7 389.8,152.5 402.3,146.2 410.6,137.4 421.5,131.2 430.9,125.7 441.8,122.6 457.4,120.5 463.6,121.8 476.7,131.0 493.0,142.7 504.8,152.0 516.4,165.0 530.0,180.0 540.0,189.2 546.8,200.0 556.4,213.8 560.0,216.9 574.9,233.7 588.0,250.6 600.0,261.0 606.4,263.7 619.1,269.3 633.1,272.8 647.2,273.6 657.0,275.7 668.2,277.1 682.3,277.1 695.0,277.7 704.3,286.1 717.4,294.5 732.4,300.1 745.5,303.0 764.2,304.8 779.2,306.7 788.6,307.6 800.0,301.0 805.2,298.3 816.6,294.9 827.9,289.3 836.9,281.3 846.0,272.3 855.0,264.0 865.9,255.3 876.9,248.8 887.8,242.2 898.8,238.9 911.9,235.6" fill="none" stroke="#ea4458" stroke-width="2.3" stroke-linejoin="round"/>
<line x1="430.5" y1="83.8" x2="1094.7" y2="273.7" stroke="#dcd98e" stroke-width="1.2"/>
<line x1="430.5" y1="83.8" x2="1040.5" y2="476" stroke="#dcd98e" stroke-width="1.2"/>
<line x1="708" y1="442.5" x2="1074" y2="170" stroke="#dcd98e" stroke-width="1.2"/>
<line x1="0" y1="254.7" x2="1120" y2="254.7" stroke="#119e86" stroke-width="2.8"/>
<line x1="0" y1="257.6" x2="1120" y2="257.6" stroke="#8a909c" stroke-width="1" stroke-dasharray="1 1.7"/>
<rect x="1002.5" y="250" width="10.5" height="10.5" rx="2.5" fill="#131722" stroke="#2962ff" stroke-width="2"/>
</svg>

<!-- header -->
<svg class="ic" style="left:6px;top:8px" width="26" height="26" viewBox="0 0 26 26">
  <circle cx="15.5" cy="9.8" r="5.8" fill="#1fa38d"/>
  <path d="M12.8 8.2 Q15.5 6.6 18.2 8.2 M14 9.9 Q15.5 9.1 17 9.9 M15.5 8.6 L15.5 12.6" stroke="#c8f3ea" stroke-width="1.1" fill="none"/>
  <circle cx="9" cy="16.8" r="7.2" fill="#141823"/>
  <circle cx="9" cy="16.8" r="6" fill="#2e2a3e"/>
  <path d="M8.8 12.8 L11.4 16.9 L8.8 18.2 L6.4 16.9Z" fill="#c9a3d6"/>
  <path d="M8.8 12.8 L8.8 18.2 L6.4 16.9Z" fill="#f0cf8e"/>
  <path d="M6.5 17.6 L8.8 19 L11.2 17.6 L8.9 20.9Z" fill="#6fc3c9"/>
</svg>
<div class="ttl" id="t_eth" style="left:31.2px;letter-spacing:0.4px">Ethereum</div>
<div class="ttl" style="left:110.6px">/</div>
<div class="ttl" id="t_usdt" style="left:124.4px">TetherUS</div>
<div class="ttl" style="left:193.3px">·</div>
<div class="ttl" id="t_4h" style="left:203.5px;letter-spacing:1.5px">4시간</div>
<div class="ttl" style="left:249.2px">·</div>
<div class="ttl" id="t_bin" style="left:258.6px;letter-spacing:-1.1px">BINANCE</div>
<div class="abs" style="left:340.5px;top:14.3px;width:16px;height:16px;border-radius:50%;background:rgba(34,171,148,0.16)"></div>
<div class="abs" style="left:344.6px;top:18.3px;width:8px;height:8px;border-radius:50%;background:#22ab94"></div>
<div id="t_chg" class="abs" style="-webkit-text-stroke:0.3px currentColor;left:376px;top:14px;font-size:14px;letter-spacing:-0.6px;line-height:17px;color:#22ab94">+23.70 (+0.71%)</div>
<div id="t_vol1" class="abs" style="-webkit-text-stroke:0.3px currentColor;left:479.5px;top:14px;font-size:14px;line-height:17px;color:#d1d4dc">볼륨</div>
<div id="t_vol2" class="abs" style="-webkit-text-stroke:0.3px currentColor;left:505.5px;top:14px;font-size:14px;letter-spacing:-0.45px;line-height:17px;color:#22ab94">26.96 K</div>

<!-- sell/buy -->
<div class="abs" style="left:7px;top:39px;width:77px;height:36px;border:1px solid #b53544;border-radius:6px"></div>
<div id="t_sell" class="abs" style="left:7px;top:43px;width:77px;text-align:center;font-size:13px;line-height:15px;color:#f7525f;-webkit-text-stroke:0.5px #f7525f">3,314.49</div>
<div id="t_sellk" class="abs" style="left:7px;top:57px;width:77px;text-align:center;font-size:12px;line-height:15px;color:#f7525f;-webkit-text-stroke:0.3px #f7525f">셀</div>
<div id="t_spread" class="abs" style="left:92.4px;top:49px;font-size:11.6px;line-height:15px;letter-spacing:-0.2px;color:#d1d4dc;-webkit-text-stroke:0.35px #d1d4dc">0.01</div>
<div class="abs" style="left:121px;top:39px;width:77px;height:36px;border:1px solid #3158d0;border-radius:6px"></div>
<div id="t_buy" class="abs" style="left:121px;top:43px;width:77px;text-align:center;font-size:13px;line-height:15px;color:#3d6cf5;-webkit-text-stroke:0.5px #3d6cf5">3,314.50</div>
<div id="t_buyk" class="abs" style="left:121px;top:57px;width:77px;text-align:center;font-size:12px;line-height:15px;color:#4f78e0">바이</div>

<!-- legend -->
<div id="t_lv1" class="abs" style="-webkit-text-stroke:0.3px currentColor;left:8.5px;top:84.8px;font-size:14px;line-height:17px;color:#d1d4dc">볼륨 · ETH</div>
<div id="t_lv2" class="abs" style="-webkit-text-stroke:0.3px currentColor;left:81.5px;top:84.8px;font-size:14px;letter-spacing:-0.6px;line-height:17px;color:#22ab94">26.96 K</div>
<div id="t_bb" class="abs" style="-webkit-text-stroke:0.3px currentColor;left:8.5px;top:108.5px;font-size:14px;line-height:17px;color:#d1d4dc">BB</div>
<div id="t_bb1" class="abs" style="-webkit-text-stroke:0.3px currentColor;left:34px;top:108.5px;font-size:14px;line-height:17px;color:#e0404f">3,393.06</div>
<div id="t_bb2" class="abs" style="-webkit-text-stroke:0.3px currentColor;left:92.5px;top:108.5px;font-size:14px;line-height:17px;color:#e8eaf0">3,516.00</div>
<div id="t_bb3" class="abs" style="-webkit-text-stroke:0.3px currentColor;left:152px;top:108.5px;font-size:14px;line-height:17px;color:#e8eaf0">3,270.11</div>
<div class="abs" style="left:8.5px;top:132px;width:30.5px;height:21px;border:1px solid #363a45;border-radius:4px"></div>
<svg class="ic" style="left:8.5px;top:132px" width="31" height="21" viewBox="0 0 31 21"><path d="M11.5 12.5 L15.5 8.5 L19.5 12.5" stroke="#d1d4dc" stroke-width="1.5" fill="none"/></svg>

<!-- top right button -->
<div class="abs" style="left:1090.5px;top:9px;width:24.5px;height:25.5px;border-radius:4px;background:#1f4fdc"></div>
<svg class="ic" style="left:1090.5px;top:9px" width="25" height="26" viewBox="0 0 25 26"><rect x="6.7" y="7.2" width="11" height="10.6" rx="1.8" fill="#1a44c2"/><path d="M6.7 11 V9 Q6.7 7.2 8.5 7.2 H15.9 Q17.7 7.2 17.7 9 V11 M6.7 13.9 V16 Q6.7 17.8 8.5 17.8 H15.9 Q17.7 17.8 17.7 16 V13.9" stroke="#dbe5ff" stroke-width="1.5" fill="none"/></svg>

<!-- price axis -->
<div class="pax" style="top:15.5px">3,900.00</div>
<div class="pax" style="top:54px">3,800.00</div>
<div class="pax" style="top:92.5px">3,700.00</div>
<div class="pax" style="top:170.5px">3,500.00</div>
<div class="pax" style="top:213px">3,400.00</div>
<div class="pax" style="top:290px">3,200.00</div>
<div class="pax" style="top:365px">3,060.00</div>
<div class="pax" style="top:402.5px">2,980.00</div>
<div class="pax" style="top:439px">2,905.00</div>
<div class="pax" style="top:478.5px">2,825.00</div>
<div class="pax" style="top:520px">2,745.00</div>
<div class="pax" style="top:552px">2,685.00</div>
<div class="pax" style="top:584px">2,625.00</div>
<div class="pax" style="top:617px">2,565.00</div>

<!-- price boxes -->
<div class="abs" style="left:1096px;top:130px;width:23px;height:22px;background:#2a2e39;border-radius:1px"></div>
<svg class="ic" style="left:1096px;top:130.5px" width="23" height="22" viewBox="0 0 23 22"><circle cx="11.8" cy="11" r="7.2" stroke="#d1d4dc" stroke-width="1.1" fill="none"/><path d="M11.8 7.3 V14.7 M8.1 11 H15.5" stroke="#d1d4dc" stroke-width="1.1"/></svg>
<div class="pbox pb" style="top:130px;height:22px;background:#363a45;color:#e8eaf0;line-height:22px">3,594.66</div>
<div class="pbox" style="top:182.8px;height:18px;background:#fff;color:#131722;line-height:19px">3,469.95</div>
<div class="pbox pb" style="top:231px;height:51px;background:#0f9d84;color:#d8f7ee;line-height:16px;padding-top:1px">3,320.13<br>3,314.24<br>03:45:47</div>
<div class="pbox" style="top:284.5px;height:18.5px;background:#fff;color:#131722;line-height:18.5px">3,231.59</div>
<div class="pbox" style="top:324.5px;height:18.5px;background:#fff;color:#131722;line-height:18.5px">3,142.81</div>

<!-- right strip -->
<div class="abs" style="left:1193px;top:201.5px;width:7px;height:14px;background:#f23645"></div>
<div class="abs" style="left:1193.5px;top:256px;width:12px;height:31px;border:1px solid #50535e;border-radius:4px"></div>
<div class="abs" style="left:1194px;top:63.5px;width:6px;height:13px;background:#434651"></div>
<div class="abs" style="left:1194px;top:79.5px;width:6px;height:1px;background:#2a2e39"></div>
<div class="abs" style="left:1194px;top:179.5px;width:6px;height:1px;background:#262a35"></div>
<div class="abs" style="left:1194px;top:225px;width:6px;height:1px;background:#262a35"></div>
<div class="abs" style="left:1194px;top:318.5px;width:6px;height:1px;background:#262a35"></div>
<div class="abs" style="left:1194px;top:376px;width:6px;height:1px;background:#262a35"></div>

<!-- time axis -->
<div class="abs" style="left:0;top:627px;width:1188px;height:14px;background:#131722;border-top:1px solid #1e222d"></div>
<div class="abs" style="left:0;top:627.5px;width:139px;height:14px;background:#363a45"></div>
<div id="t_date" class="abs" style="left:11px;top:633.5px;font-size:12px;line-height:14px;color:#e8eaf0">토&nbsp; 2024-12-28&nbsp;&nbsp; 17:00</div>
<div class="tax" style="left:173px">2025</div>
<div class="tax" style="left:669px">12</div>
<div class="tax" style="left:790px">16</div>
<div class="tax" style="left:952px">20</div>
<div class="tax" style="left:1074px">23</div>
<svg class="ic" style="left:1146px;top:629px" width="20" height="14" viewBox="0 0 20 14"><path d="M6 10 L8 5 L12 5 L14 10" stroke="#b2b5be" stroke-width="1.3" fill="none"/><circle cx="10" cy="10" r="2" stroke="#b2b5be" stroke-width="1.2" fill="none"/></svg>

<!-- TradingView logo -->
<svg class="ic" style="left:9px;top:593px" width="36" height="22" viewBox="0 0 36 22">
  <g fill="#e0e3eb" stroke="#131722" stroke-width="2.6" paint-order="stroke" stroke-linejoin="round">
  <path d="M3 3 H15.2 V19 H8.2 V8.7 H3 Z"/>
  <circle cx="20.6" cy="5.6" r="2.9"/>
  <path d="M26 3 H34.4 L29.6 19 H21.1 Z"/>
  </g>
</svg>
<div id="t_logo" class="abs" style="left:50px;top:591px;font-size:21px;line-height:26px;font-weight:bold;color:#e0e3eb;letter-spacing:0.35px;-webkit-text-stroke:4px #131722;paint-order:stroke fill">TradingView</div>

<!-- lightning icon -->
<svg class="ic" style="left:900px;top:601px" width="26" height="26" viewBox="0 0 26 26">
  <circle cx="12.2" cy="11.8" r="11.2" fill="#141823"/>
  <circle cx="12.2" cy="11.8" r="10.2" stroke="#a25ed2" stroke-width="1.6" fill="#1b1629"/>
  <path d="M15.8 5.8 L9.3 12.6 H12.6 L8.4 18.2 L15.2 11 H12 Z" fill="#a35bd6"/>
  <circle cx="19.3" cy="4.1" r="3.6" fill="#f23645" stroke="#141823" stroke-width="1"/>
</svg>

<!-- toolbar -->
<div class="abs" style="left:243.5px;top:600px;width:416px;height:50px;background:#1e222d;border-radius:7px"></div>
<svg class="ic" style="left:243.5px;top:600px" width="417" height="41" viewBox="243.5 600 417 41">
  <g fill="#50535e">
    <circle cx="252.8" cy="615.7" r="1"/><circle cx="258.3" cy="615.7" r="1"/>
    <circle cx="252.8" cy="621.2" r="1"/><circle cx="258.3" cy="621.2" r="1"/>
    <circle cx="252.8" cy="626.6" r="1"/><circle cx="258.3" cy="626.6" r="1"/>
  </g>
  <g stroke="#d1d4dc" stroke-width="1.3" fill="none">
    <rect x="280" y="613.5" width="6.5" height="6.5" rx="2"/>
    <rect x="289.5" y="613.5" width="6.5" height="6.5" rx="2"/>
    <rect x="280" y="622.5" width="6.5" height="6.5" rx="2"/>
    <path d="M292.7 622 V629.5 M289 625.7 H296.5"/>
    <path d="M321 624 L321.5 620 L333 608.7 L336.6 612.3 L325 623.7 Z M330.8 610.9 L334.4 614.5"/>
    <path d="M429 620.5 H451" stroke="#b2b5be" stroke-width="1.5"/>
    <path d="M475.3 612 H485.3 L490.8 621.2 L485.3 630.4 H475.3 L469.8 621.2 Z"/>
    <circle cx="480.3" cy="621.2" r="3.4"/>
    <path d="M527.7 619.6 A8.3 8.3 0 1 0 521.8 629.3"/>
    <path d="M519.7 616 V622.3 H515.8"/>
    <path d="M509.6 615.6 Q511 613 513.6 611.6 M525.4 611.6 Q528 613 529.4 615.6"/>
    <path d="M525.9 624 V632 M521.9 628 H529.9"/>
    <rect x="552.5" y="620" width="16.5" height="11.2" rx="2"/>
    <path d="M556.5 619.6 V615.5 A3.9 3.9 0 0 1 564.1 614.6"/>
    <path d="M560.3 623.9 V626.4" stroke-width="1.9" stroke-linecap="round"/>
    <path d="M590.2 614.6 H609.3 M597 614.6 V612.6 Q597 611.4 598.2 611.4 H602.4 Q603.6 611.4 603.6 612.6 V614.6 M592.6 614.6 L594.3 630.2 Q594.4 631.4 595.6 631.4 H604.3 Q605.5 631.4 605.6 630.2 L607.2 614.6"/>
    <circle cx="633.5" cy="621.6" r="2.4"/><circle cx="640.8" cy="621.6" r="2.4"/><circle cx="648.1" cy="621.6" r="2.4"/>
  </g>
  <path d="M359.5 620.6 H377" stroke="#e0e3eb" stroke-width="3.2" stroke-linecap="round"/>
  <path d="M318.5 631 H339" stroke="#1a9e85" stroke-width="4" stroke-linecap="round"/>
</svg>
<div id="t_3px" class="abs" style="left:385.6px;top:610.5px;font-size:15.2px;line-height:19px;letter-spacing:-0.6px;color:#e0e3eb;-webkit-text-stroke:0.55px #e0e3eb">3px</div>

</body></html>
